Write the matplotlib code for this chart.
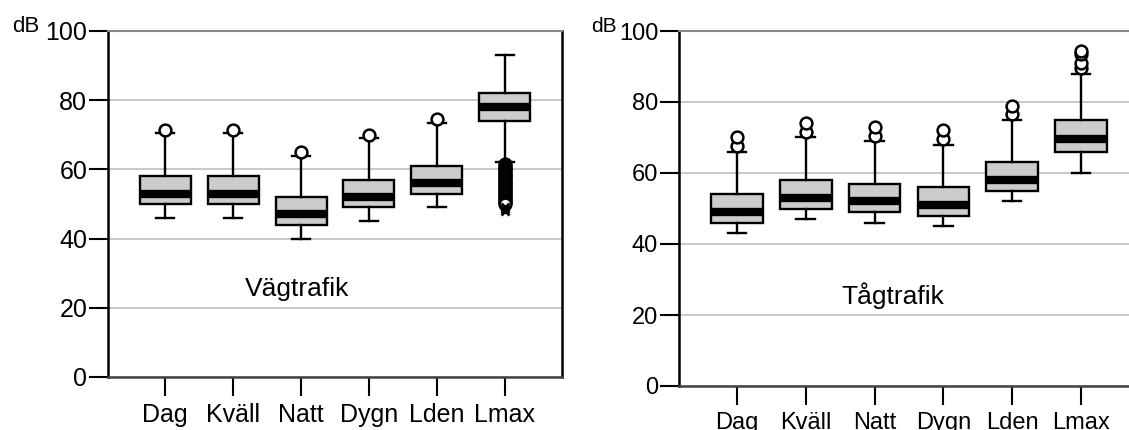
import matplotlib.pyplot as plt

plt.rcParams['font.family'] = ['Liberation Sans', 'DejaVu Sans']

categories = ['Dag', 'Kväll', 'Natt', 'Dygn', 'Lden', 'Lmax']

# Vägtrafik
road_whislo = [46, 46, 40, 45, 49, 62]
road_q1 = [50, 50, 44, 49, 53, 74]
road_med = [53, 53, 47, 52, 56, 78]
road_q3 = [58, 58, 52, 57, 61, 82]
road_whishi = [70.5, 70.5, 64, 69, 73.5, 93]
road_fliers = [[71.5], [71.5], [65], [70], [74.5],
               [61.5, 61, 60.5, 60, 59.5, 59, 58.5, 58, 57.5, 57, 56.5, 56,
                55.5, 55, 54.5, 54, 53.5, 53, 52.5, 52, 51.5, 51, 50.5, 50]]
road_extremes = [49, 48.5, 48]

# Tågtrafik
rail_whislo = [43, 47, 46, 45, 52, 60]
rail_q1 = [46, 50, 49, 48, 55, 66]
rail_med = [49, 53, 52, 51, 58, 69.5]
rail_q3 = [54, 58, 57, 56, 63, 75]
rail_whishi = [66, 70, 69, 68, 75, 88]
rail_fliers = [[67.5, 70], [71.5, 74], [70.5, 73], [69.5, 72], [76.5, 79],
               [89.5, 91, 93.5, 94.5]]

yticks = [0, 20, 40, 60, 80, 100]


def draw_panel(ax, whislo, q1, med, q3, whishi, fliers, title, title_x, fs, xlim):
    stats = []
    for i, name in enumerate(categories):
        stats.append(dict(label=name, whislo=whislo[i], q1=q1[i], med=med[i],
                          q3=q3[i], whishi=whishi[i], fliers=fliers[i]))
    ax.set_axisbelow(True)
    ax.yaxis.grid(True, color='#c4c4c4', linewidth=1.3)
    ax.bxp(stats, positions=range(1, 7), widths=0.75, patch_artist=True,
           boxprops=dict(facecolor='#cccccc', edgecolor='black', linewidth=1.7),
           medianprops=dict(color='black', linewidth=6, solid_capstyle='butt'),
           whiskerprops=dict(color='black', linewidth=1.7),
           capprops=dict(color='black', linewidth=1.7),
           capwidths=0.27,
           flierprops=dict(marker='o', markersize=8.5, markerfacecolor='white',
                           markeredgecolor='black', markeredgewidth=1.8))
    ax.set_ylim(0, 100)
    ax.set_xlim(*xlim)
    ax.set_yticks(yticks)
    ax.set_xticks(range(1, 7))
    ax.set_xticklabels(categories)
    ax.tick_params(axis='y', length=14, width=1.5, pad=1, labelsize=fs)
    ax.tick_params(axis='x', length=14, width=1.5, pad=5, labelsize=fs)
    ax.spines['left'].set_linewidth(1.8)
    ax.spines['bottom'].set_color('#444444')
    ax.spines['bottom'].set_linewidth(1.8)
    ax.spines['top'].set_color('#888888')
    ax.spines['top'].set_linewidth(1.5)
    ax.text(title_x, 25.5, title, fontsize=19, ha='center', va='center')


fig = plt.figure(figsize=(11.29, 4.30), dpi=100)
ax1 = fig.add_axes([108 / 1129, 1 - 377 / 430, (562 - 108) / 1129, (377 - 31) / 430])
ax2 = fig.add_axes([679 / 1129, 1 - 386 / 430, (1129 - 679) / 1129, (386 - 31) / 430])

draw_panel(ax1, road_whislo, road_q1, road_med, road_q3, road_whishi, road_fliers,
           'Vägtrafik', 2.94, 18, (0.16, 6.84))
ax1.plot([6] * len(road_extremes), road_extremes, linestyle='none', marker='x',
         color='black', markersize=6, markeredgewidth=2)
ax1.spines['right'].set_linewidth(1.8)

draw_panel(ax2, rail_whislo, rail_q1, rail_med, rail_q3, rail_whishi, rail_fliers,
           'Tågtrafik', 3.27, 17, (0.157, 6.70))
ax2.spines['right'].set_visible(False)

fig.text(12 / 1129, 1 - 27 / 430, 'dB', fontsize=16, va='center', ha='left')
fig.text(591 / 1129, 1 - 27 / 430, 'dB', fontsize=15, va='center', ha='left')

fig.savefig('out.png', dpi=100)
